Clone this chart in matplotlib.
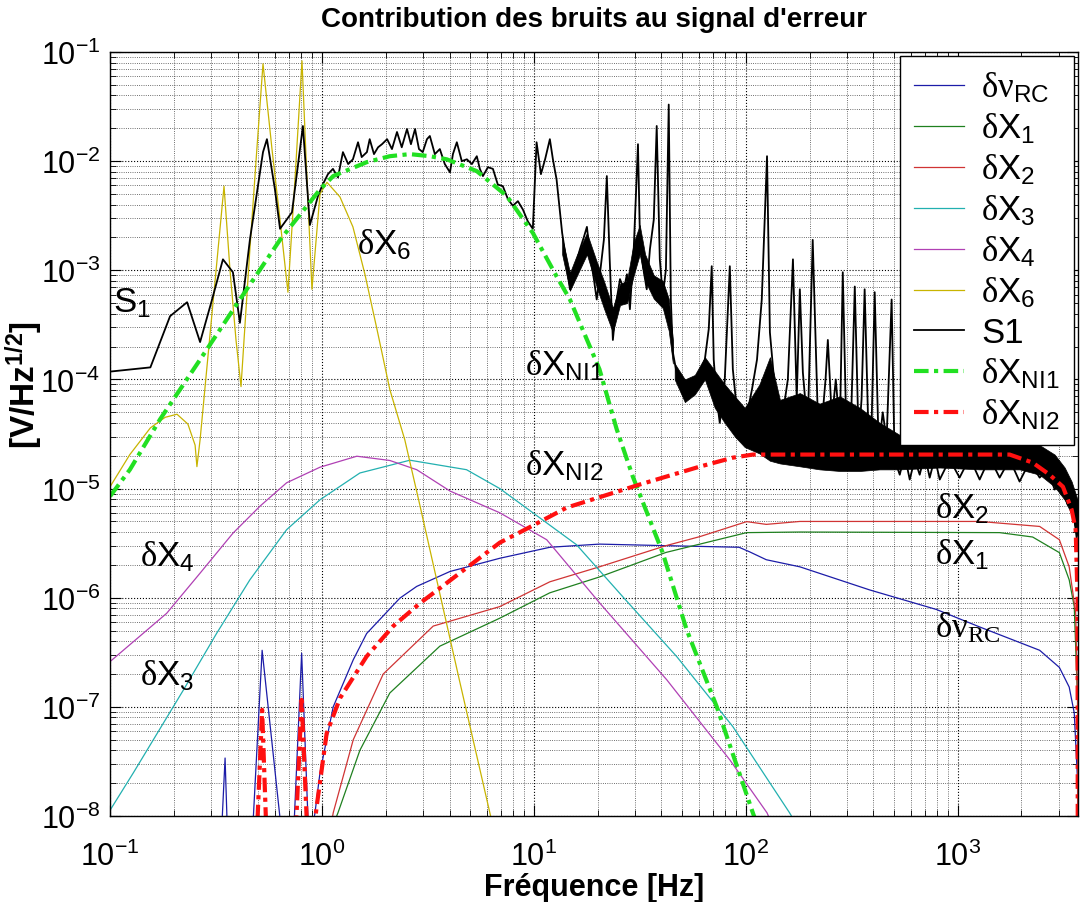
import matplotlib
matplotlib.use('Agg')
import matplotlib.pyplot as plt

plt.rcParams['font.family'] = ['Liberation Sans', 'DejaVu Sans']
plt.rcParams['mathtext.fontset'] = 'custom'
plt.rcParams['mathtext.rm'] = 'Liberation Serif'
plt.rcParams['mathtext.it'] = 'Liberation Serif:italic'
plt.rcParams['mathtext.sf'] = 'Liberation Sans'
plt.rcParams['mathtext.bf'] = 'Liberation Sans:bold'

# --- data (Hz, V/Hz^1/2) ---
rc_freq = [0.333, 0.349, 0.36, 0.466, 0.522, 0.657, 0.73, 0.802, 0.87, 0.927, 0.979, 1.13,
           1.405, 1.625, 2.33, 2.80, 4.02, 6.91, 11.9, 20.4, 42.0, 93.0, 104, 125, 180, 384,
           795, 1270, 2438, 3020, 3360, 3550, 3680, 3690]
rc_amp = [5e-9, 3.4e-8, 5e-9, 5e-9, 3.3e-7, 5e-9, 5e-9, 3.1e-7, 5e-9, 1.07e-8, 2.5e-8, 1.0e-7,
          2.7e-7, 4.7e-7, 9.9e-7, 1.27e-6, 1.74e-6, 2.3e-6, 2.9e-6, 3.1e-6, 3.0e-6, 2.9e-6,
          2.64e-6, 2.23e-6, 1.92e-6, 1.18e-6, 7.8e-7, 5.4e-7, 3.3e-7, 2.3e-7, 1.52e-7, 8.8e-8,
          2.1e-8, 1e-9]

x1_freq = [1.09, 1.19, 1.51, 2.09, 3.60, 6.91, 11.9, 20.4, 42.0, 101, 180, 1578, 2259, 3020,
           3360, 3550, 3680, 3690]
x1_amp = [7e-9, 1.07e-8, 4.0e-8, 1.34e-7, 3.6e-7, 6.5e-7, 1.11e-6, 1.55e-6, 2.6e-6, 3.95e-6,
          4.0e-6, 3.95e-6, 3.6e-6, 2.59e-6, 1.46e-6, 8.3e-7, 1.16e-7, 1e-9]

x2_freq = [1.09, 1.13, 1.405, 1.946, 3.35, 6.91, 11.9, 20.4, 42.0, 60.7, 101, 125, 180, 1270,
           2438, 3020, 3360, 3606, 3680, 3690]
x2_amp = [7e-9, 1.07e-8, 5.0e-8, 2.0e-7, 5.5e-7, 8.3e-7, 1.4e-6, 1.92e-6, 3.0e-6, 3.63e-6,
          4.98e-6, 4.7e-6, 5.0e-6, 5.0e-6, 4.5e-6, 3.4e-6, 1.92e-6, 7.3e-7, 1.16e-7, 1e-9]

x3_freq = [0.100, 0.129, 0.222, 0.318, 0.457, 0.681, 0.979, 1.51, 2.60, 4.81, 6.91, 15.9, 26.3,
           47.3, 86.9, 161, 180]
x3_amp = [1.13e-8, 2.5e-8, 1.43e-7, 4.7e-7, 1.46e-6, 4.2e-6, 7.9e-6, 1.39e-5, 1.82e-5, 1.49e-5,
          1.0e-5, 3.06e-6, 1.02e-6, 2.88e-7, 6.6e-8, 1.07e-8, 7.4e-9]

x4_freq = [0.100, 0.185, 0.266, 0.380, 0.510, 0.681, 0.979, 1.46, 2.09, 2.80, 4.02, 6.91, 11.5,
           20.4, 42.4, 84.1, 126, 137]
x4_amp = [2.6e-7, 7.2e-7, 1.68e-6, 3.9e-6, 6.9e-6, 1.13e-5, 1.57e-5, 1.98e-5, 1.81e-5, 1.49e-5,
          9.5e-6, 6.0e-6, 3.4e-6, 9.0e-7, 1.77e-7, 3.27e-8, 1.07e-8, 7.4e-9]

x6_freq = [0.100, 0.124, 0.155, 0.182, 0.207, 0.233, 0.252, 0.257, 0.266, 0.345, 0.368, 0.393,
           0.415, 0.457, 0.493, 0.527, 0.581, 0.634, 0.691, 0.746, 0.805, 0.850, 0.897, 0.979,
           1.056, 1.216, 1.400, 1.595, 1.817, 2.09, 2.46, 2.90, 3.60, 4.47, 6.20, 6.91]
x6_amp = [1.04e-5, 2.05e-5, 3.6e-5, 4.5e-5, 4.8e-5, 3.9e-5, 2.5e-5, 1.59e-5, 2.8e-5, 5.9e-3,
          1.02e-3, 2.3e-4, 8.6e-5, 1.56e-3, 1.29e-2, 7.8e-2, 1.29e-2, 2.9e-3, 6.3e-4, 6.8e-3,
          8.3e-2, 6.8e-3, 6.7e-4, 5.0e-3, 6.4e-3, 4.7e-3, 2.5e-3, 9.2e-4, 2.9e-4, 8.1e-5,
          2.8e-5, 7.0e-6, 1.09e-6, 1.7e-7, 1.07e-8, 4.1e-9]

s1_freq = [0.100, 0.155, 0.192, 0.231, 0.266, 0.303, 0.341, 0.380, 0.410, 0.457, 0.527, 0.550,
           0.600, 0.634, 0.722, 0.813, 0.877, 0.958,
           1.0, 1.067, 1.127, 1.19, 1.256, 1.33, 1.40, 1.48, 1.54, 1.63, 1.68, 1.76, 1.84, 1.92,
           2.03, 2.14, 2.26, 2.38, 2.52, 2.63, 2.75, 2.87, 2.99, 3.13, 3.23, 3.41, 3.60, 3.80,
           4.02, 4.15, 4.33, 4.57, 4.83, 5.10, 5.38, 5.56, 5.75, 6.07, 6.41, 6.76, 7.14, 7.54,
           7.96, 8.41, 8.88, 9.37, 9.89,
           10.3, 10.8, 11.3, 11.9, 12.3, 12.8, 13.3, 13.6, 14.2, 14.8, 15.6, 16.5, 17.2, 17.8,
           18.4, 19.2, 19.8, 20.5, 21.4, 22.1, 22.8, 23.6, 24.6, 25.5, 26.6, 27.5, 28.4, 29.6,
           31.0, 31.6, 32.7, 34.1, 35.3, 36.8, 38.0, 39.3, 40.6, 42.0, 43.3, 44.3, 45.3, 47.8,
           50.5, 52.7, 55.6, 58.1, 60.7, 64.1, 66.9, 69.1, 70.6, 73.0, 75.4, 79.6, 84.1, 86.9,
           91.7, 96.8,
           101, 107, 113, 119, 126, 130, 136, 142, 150, 158, 167, 174, 180, 186, 196, 207, 219,
           231, 238, 244, 255, 266, 278, 287, 299, 310, 327, 341, 352, 364, 380, 393, 406, 424,
           443, 462, 488, 504, 533, 562, 594, 627, 662, 699, 738, 780, 823, 917, 1021, 1140,
           1270, 1416, 1578, 1759, 1960, 2188, 2438, 2660, 2870, 3098, 3305, 3451, 3606, 3680]
s1_amp = [1.18e-4, 1.29e-4, 3.8e-4, 5.1e-4, 2.2e-4, 5.4e-4, 1.26e-3, 9.6e-4, 3.3e-4, 1.9e-3,
          1.21e-2, 1.59e-2, 5.5e-3, 2.4e-3, 3.4e-3, 2.1e-2, 2.6e-3, 4.8e-3,
          5.9e-3, 7.6e-3, 8.5e-3, 7.1e-3, 1.21e-2, 9.4e-3, 1.04e-2, 1.49e-2, 1.09e-2, 1.21e-2,
          1.59e-2, 1.16e-2, 1.34e-2, 1.43e-2, 1.59e-2, 1.29e-2, 1.85e-2, 1.34e-2, 1.97e-2,
          1.43e-2, 1.97e-2, 1.29e-2, 1.21e-2, 1.59e-2, 1.70e-2, 1.16e-2, 1.29e-2, 9.4e-3,
          7.9e-3, 1.16e-2, 1.49e-2, 1.0e-2, 1.04e-2, 9.4e-3, 1.11e-2, 8.5e-3, 7.3e-3, 8.8e-3,
          8.5e-3, 6.1e-3, 5.9e-3, 4.5e-3, 3.9e-3, 4.3e-3, 3.6e-3, 2.8e-3, 2.4e-3,
          1.49e-2, 7.6e-3, 1.04e-2, 1.59e-2, 1.04e-2, 6.8e-3, 3.3e-3, 2.2e-3, 1.26e-3, 6.7e-4,
          1.02e-3, 1.56e-3, 2.0e-3, 2.5e-3, 1.40e-3, 8.3e-4, 5.4e-4, 9.2e-4, 1.9e-3, 7.3e-3,
          1.26e-3, 2.3e-4, 5.4e-4, 8.3e-4, 6.7e-4, 9.2e-4, 4.4e-4, 1.56e-3, 1.43e-2, 2.4e-3,
          1.09e-3, 6.7e-4, 1.56e-3, 2.9e-3, 2.1e-2, 1.26e-3, 5.8e-4, 1.02e-3, 3.3e-2, 5.4e-4,
          1.77e-4, 1.0e-4, 7.3e-5, 6.6e-5, 8.1e-5, 1.0e-4, 1.16e-4, 1.52e-4, 2.9e-4, 1.09e-3,
          1.52e-4, 6.6e-5, 4.0e-5, 1.0e-4, 1.09e-3, 1.24e-4, 4.3e-5, 2.8e-5,
          4.6e-5, 8.1e-5, 1.52e-4, 5.4e-4, 1.11e-2, 2.7e-4, 1.0e-4, 4.3e-5, 5.0e-5, 1.0e-4,
          1.26e-3, 6.6e-5, 6.7e-4, 1.16e-4, 3.5e-5, 1.9e-3, 4.3e-5, 5.0e-5, 1.0e-4, 2.3e-4,
          4.3e-5, 1.0e-4, 3.5e-5, 9.6e-4, 2.8e-5, 1.73e-5, 7.1e-4, 2.8e-5, 6.6e-5, 6.7e-4,
          2.8e-5, 4.3e-5, 6.3e-4, 2.3e-5, 5.0e-5, 2.8e-5, 5.4e-4, 1.85e-5, 1.34e-5, 2.05e-5,
          1.21e-5, 1.85e-5, 1.34e-5, 2.05e-5, 1.26e-5, 1.92e-5, 1.21e-5, 1.85e-5, 1.26e-5,
          1.92e-5, 1.21e-5, 1.92e-5, 1.26e-5, 1.85e-5, 1.16e-5, 1.77e-5, 1.26e-5, 1.49e-5,
          9.8e-6, 1.21e-5, 7.1e-6, 7.9e-6, 4.2e-6, 3.0e-6]

# dense noise of S1 between ~14 and 45 Hz (upper / lower envelope)
mid_freq = [13.6, 14.8, 16.0, 17.8, 19.8, 21.4, 23.6, 25.5, 27.5, 29.6, 31.6, 33.5, 36.8, 40.6,
            43.3, 45.3]
mid_hi = [2.0e-3, 9.5e-4, 1.4e-3, 2.2e-3, 1.2e-3, 8.0e-4, 4.5e-4, 7.5e-4, 8.0e-4, 1.8e-3,
          2.6e-3, 1.4e-3, 9.0e-4, 8.0e-4, 5.5e-4, 2.3e-4]
mid_lo = [1.4e-3, 6.5e-4, 9.0e-4, 1.4e-3, 7.0e-4, 4.5e-4, 2.7e-4, 4.8e-4, 5.0e-4, 9.0e-4,
          1.4e-3, 8.0e-4, 5.5e-4, 4.5e-4, 2.8e-4, 1.4e-4]

# dense noise floor of S1 above ~45 Hz (upper / lower envelope)
band_freq = [46.2, 51.6, 57.5, 64.1, 71.4, 79.6, 88.8, 98.9, 116, 130, 145, 180, 223, 278, 345,
             429, 533, 823, 1270, 1960, 2438, 2870, 3199, 3451, 3680]
band_hi = [1.4e-4, 1.0e-4, 1.1e-4, 1.6e-4, 1.2e-4, 9.0e-5, 7.0e-5, 5.5e-5, 9.0e-5, 1.6e-4,
           6.5e-5, 7.5e-5, 6.0e-5, 7.0e-5, 5.5e-5, 4.0e-5, 3.1e-5, 2.8e-5, 2.8e-5, 2.8e-5,
           2.5e-5, 2.05e-5, 1.56e-5, 1.16e-5, 7.9e-6]
band_lo = [1.0e-4, 6.2e-5, 7.3e-5, 1.0e-4, 5.5e-5, 4.0e-5, 3.0e-5, 2.4e-5, 2.1e-5, 1.8e-5,
           1.7e-5, 1.6e-5, 1.5e-5, 1.45e-5, 1.45e-5, 1.5e-5, 1.5e-5, 1.56e-5, 1.5e-5,
           1.5e-5, 1.34e-5, 1.04e-5, 7.9e-6, 5.8e-6, 3.6e-6]

nl1_freq = [0.100, 0.124, 0.172, 0.266, 0.410, 0.634, 0.979, 1.13, 1.63, 2.09, 2.60, 3.23, 3.88,
            5.38, 7.45, 9.89, 12.8, 14.8, 20.4, 24.6, 29.3, 40.5, 52.6, 73.0, 108, 125]
nl1_amp = [8.5e-6, 1.49e-5, 4.3e-5, 1.52e-4, 5.4e-4, 1.9e-3, 5.5e-3, 7.3e-3, 9.8e-3, 1.11e-2,
           1.16e-2, 1.11e-2, 1.04e-2, 8.1e-3, 4.8e-3, 2.2e-3, 8.8e-4, 5.4e-4, 1.24e-4, 3.5e-5,
           1.29e-5, 2.6e-6, 5.1e-7, 1.0e-7, 1.07e-8, 4.9e-9]

nl2_freq = [0.49, 0.522, 0.55, 0.746, 0.802, 0.859, 0.917, 0.944, 1.052, 1.216, 1.625, 2.17,
            2.90, 3.87, 6.91, 9.07, 14.3, 31.6, 60.7, 86.9, 108, 1759, 2259, 2717, 3140, 3451,
            3606, 3680, 3690]
nl2_amp = [5e-9, 9.4e-8, 5e-9, 5e-9, 1.16e-7, 5e-9, 7.4e-9, 1.22e-8, 5.7e-8, 1.2e-7, 2.9e-7,
           5.5e-7, 8.9e-7, 1.36e-6, 3.2e-6, 4.2e-6, 6.7e-6, 1.09e-5, 1.59e-5, 1.92e-5, 2.05e-5,
           2.05e-5, 1.73e-5, 1.34e-5, 1.04e-5, 6.4e-6, 4.2e-6, 9.6e-7, 1e-9]

labels = [r'$\mathrm{\delta\nu}_{\mathsf{RC}}$', r'$\mathrm{\delta}\mathsf{X}_{\mathsf{1}}$',
          r'$\mathrm{\delta}\mathsf{X}_{\mathsf{2}}$', r'$\mathrm{\delta}\mathsf{X}_{\mathsf{3}}$',
          r'$\mathrm{\delta}\mathsf{X}_{\mathsf{4}}$', r'$\mathrm{\delta}\mathsf{X}_{\mathsf{6}}$',
          'S1', r'$\mathrm{\delta}\mathsf{X}_{\mathsf{NI1}}$',
          r'$\mathrm{\delta}\mathsf{X}_{\mathsf{NI2}}$']

fig = plt.figure(figsize=(10.8, 9.03), dpi=100)
ax = fig.add_axes([0.1019, 0.0952, 0.8963, 0.8461])

dash = (3.5, 1.3, 1.0, 1.3)
ax.plot(rc_freq, rc_amp, color='#1c1ca8', lw=0.9, label=labels[0])
ax.plot(x1_freq, x1_amp, color='#1f801f', lw=0.9, label=labels[1])
ax.plot(x2_freq, x2_amp, color='#d03434', lw=0.9, label=labels[2])
ax.plot(x3_freq, x3_amp, color='#22b0b0', lw=0.9, label=labels[3])
ax.plot(x4_freq, x4_amp, color='#b040b4', lw=0.9, label=labels[4])
ax.plot(x6_freq, x6_amp, color='#c8b400', lw=0.9, label=labels[5])
ax.fill_between(mid_freq, mid_lo, mid_hi, color='k', lw=0.5)
ax.fill_between(band_freq, band_lo, band_hi, color='k', lw=0.5)
ax.plot(s1_freq, s1_amp, color='k', lw=1.3, label=labels[6])
ax.plot(nl1_freq, nl1_amp, color='#22e022', lw=3, dashes=dash, label=labels[7])
ax.plot(nl2_freq, nl2_amp, color='#ff1010', lw=3, dashes=dash, label=labels[8])

ax.set_xscale('log')
ax.set_yscale('log')
ax.set_xlim(0.1, 3700)
ax.set_ylim(1e-8, 1e-1)

ax.grid(True, which='major', ls=':', color='k', lw=0.8)
ax.grid(True, which='minor', ls=':', color='k', lw=0.6, alpha=0.75)
ax.tick_params(which='both', direction='in', top=True, right=True, labelsize=22)
ax.tick_params(which='major', length=8)
ax.tick_params(which='minor', length=4)
ax.tick_params(axis='x', which='major', pad=18)
ax.tick_params(axis='y', which='major', pad=7)
for sp in ax.spines.values():
    sp.set_linewidth(1.0)

fig.text(594 / 1080, 1 - 20 / 903, "Contribution des bruits au signal d'erreur",
         fontsize=20, fontweight='bold', ha='center', va='center')
fig.text(594 / 1080, 1 - 888 / 903, 'Fréquence [Hz]', fontsize=22, fontweight='bold',
         ha='center', va='center')
fig.text(24 / 1080, 1 - 385 / 903, r'[V/Hz$^{\mathbf{1/2}}$]', fontsize=24,
         fontweight='bold', ha='center', va='center', rotation=90)

# curve annotations
fs = 25
ax.text(0.103, 5.1e-4, r'$\mathsf{S}_{\mathsf{1}}$', fontsize=fs, va='center')
ax.text(1.46, 1.73e-3, labels[5], fontsize=fs, va='center')
ax.text(9.06, 1.37e-4, labels[7], fontsize=fs, va='center')
ax.text(9.06, 1.66e-5, labels[8], fontsize=fs, va='center')
ax.text(0.139, 2.4e-6, labels[4], fontsize=fs, va='center')
ax.text(0.139, 1.97e-7, labels[3], fontsize=fs, va='center')
ax.text(779, 6.7e-6, labels[2], fontsize=fs, va='center')
ax.text(779, 2.5e-6, labels[1], fontsize=fs, va='center')
ax.text(779, 5.4e-7, r'$\mathrm{\delta\nu_{RC}}$', fontsize=fs, va='center')

leg = ax.legend(loc='upper right', fontsize=25, frameon=True, fancybox=False,
                framealpha=1, edgecolor='k', borderaxespad=0.12, handlelength=1.45,
                handletextpad=0.5, labelspacing=0.2, borderpad=0.4)
leg.get_frame().set_linewidth(1.0)

fig.savefig('out.png', dpi=100)
